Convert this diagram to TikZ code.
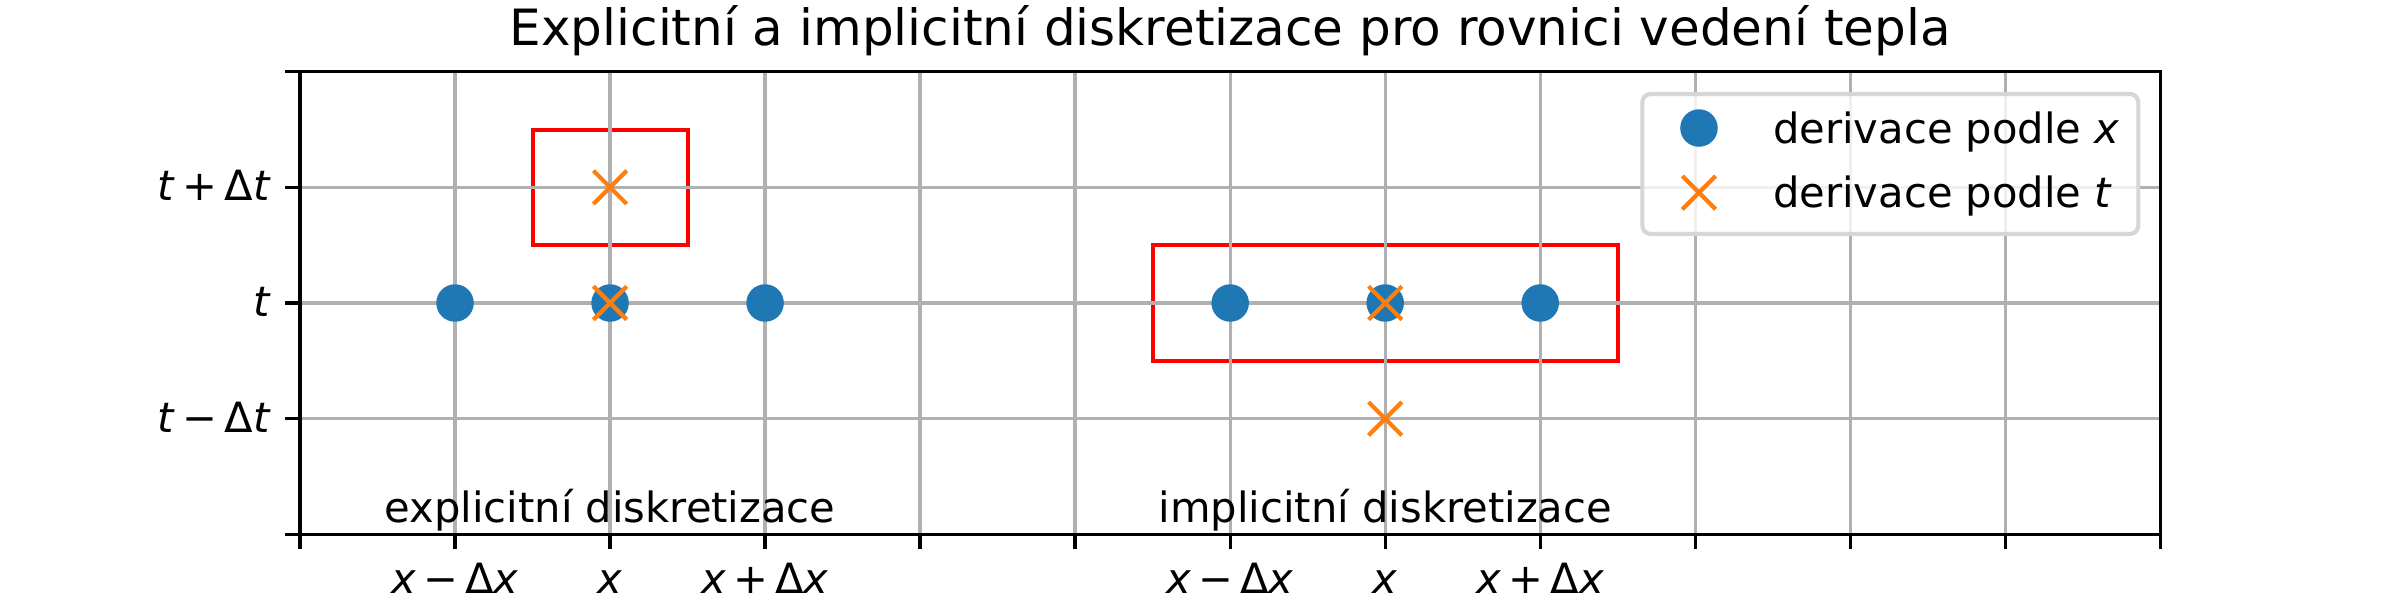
\documentclass[tikz,border=0pt]{standalone}
\usepackage{fontspec}
\setmainfont{DejaVu Sans}
\usetikzlibrary{shapes.misc}
\definecolor{mplblue}{HTML}{1F77B4}
\definecolor{mplorange}{HTML}{FF7F0E}
\definecolor{gridgray}{HTML}{B0B0B0}
\definecolor{legedge}{HTML}{D6D6D6}
\newcommand\mgap{\hspace{0.17em}}
\newcommand\vx{\textit{x}}
\newcommand\vt{\textit{t}}
\begin{document}
\begin{tikzpicture}[x=46.509pt, y=34.695pt,
  dot/.style={circle, fill=mplblue, minimum size=11.25pt, inner sep=0pt, outer sep=0pt},
  crs/.style={cross out, draw=mplorange, line width=1.25pt, minimum size=10pt, inner sep=0pt, outer sep=0pt},
  gridline/.style={draw=gridgray, line width=1pt},
  region/.style={draw=red, line width=1.2pt},
  spine/.style={draw=black, line width=1pt},
  lbl/.style={font=\fontsize{12.5}{15}\selectfont, inner sep=0pt, outer sep=0pt},
  titlestyle/.style={font=\fontsize{15}{18}\selectfont, inner sep=0pt, outer sep=0pt},
  legbox/.style={draw=legedge, line width=1.25pt, fill=white, fill opacity=0.8, rounded corners=2.5pt}
]
\useasboundingbox (-1.9351,-0.5681) rectangle (13.546,4.620);

% highlighted regions (below the grid)
\draw[region] (1.5,2.5) rectangle (2.5,3.5);
\draw[region] (5.5,1.5) rectangle (8.5,2.5);

% grid
\foreach \i in {0,...,12} \draw[gridline] (\i,0) -- (\i,4);
\foreach \j in {0,...,4} \draw[gridline] (0,\j) -- (12,\j);

% points: derivative in x
\node[dot] (ea) at (1,2) {};
\node[dot] (eb) at (2,2) {};
\node[dot] (ec) at (3,2) {};
\node[dot] (ia) at (6,2) {};
\node[dot] (ib) at (7,2) {};
\node[dot] (ic) at (8,2) {};
% points: derivative in t
\node[crs] (et1) at (2,3) {};
\node[crs] (et0) at (2,2) {};
\node[crs] (it0) at (7,2) {};
\node[crs] (it1) at (7,1) {};

% spines and ticks
\draw[spine] (0,0) rectangle (12,4);
\foreach \i in {0,...,12} \draw[spine] (\i,0) -- ++(0,-4.375pt);
\foreach \j in {0,...,4} \draw[spine] (0,\j) -- ++(-4.375pt,0);

% tick labels
\node[lbl, anchor=base] (xl1) at (1,-0.5076) {\vx\mgap−\mgap Δ\vx};
\node[lbl, anchor=base] (xl2) at (2,-0.5076) {\vx};
\node[lbl, anchor=base] (xl3) at (3,-0.5076) {\vx\mgap+\mgap Δ\vx};
\node[lbl, anchor=base] (xl6) at (6,-0.5076) {\vx\mgap−\mgap Δ\vx};
\node[lbl, anchor=base] (xl7) at (7,-0.5076) {\vx};
\node[lbl, anchor=base] (xl8) at (8,-0.5076) {\vx\mgap+\mgap Δ\vx};
\node[lbl, anchor=base east] (yl1) at (-0.1884,1-0.118) {\vt\mgap−\mgap Δ\vt};
\node[lbl, anchor=base east] (yl2) at (-0.1884,2-0.118) {\vt};
\node[lbl, anchor=base east] (yl3) at (-0.1884,3-0.118) {\vt\mgap+\mgap Δ\vt};

% annotations
\node[lbl, anchor=base] (expl) at (2,0.1) {explicitní diskretizace};
\node[lbl, anchor=base] (impl) at (7,0.1) {implicitní diskretizace};

% title
\node[titlestyle, anchor=base] (title) at (6,4.225) {Explicitní a implicitní diskretizace pro rovnici vedení tepla};

% legend
\draw[legbox] (8.659,2.597) rectangle (11.858,3.807);
\node[dot] (legdot) at (9.024,3.513) {};
\node[crs] (legcrs) at (9.024,2.954) {};
\node[lbl, anchor=base west] (legx) at (9.502,3.381) {derivace podle \vx};
\node[lbl, anchor=base west] (legt) at (9.502,2.824) {derivace podle \vt};
\end{tikzpicture}
\end{document}
